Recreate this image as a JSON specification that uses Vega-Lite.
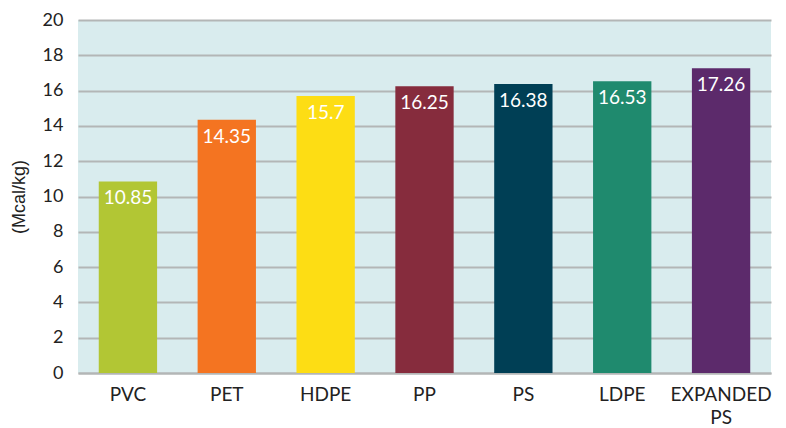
{
  "$schema": "https://vega.github.io/schema/vega-lite/v6.json",
  "width": 693,
  "height": 353,
  "autosize": {"type": "none"},
  "padding": {"left": 78, "top": 20, "right": 15, "bottom": 55},
  "background": "white",
  "config": {
    "font": "Lato",
    "view": {"fill": "#d9ecee", "stroke": null}
  },
  "data": {
    "values": [
      {"material": "PVC", "value": 10.85, "color": "#b2c634"},
      {"material": "PET", "value": 14.35, "color": "#f47421"},
      {"material": "HDPE", "value": 15.7, "color": "#fddd14"},
      {"material": "PP", "value": 16.25, "color": "#862c3d"},
      {"material": "PS", "value": 16.38, "color": "#003f55"},
      {"material": "LDPE", "value": 16.53, "color": "#1f8a6e"},
      {"material": "EXPANDED PS", "value": 17.26, "color": "#5c2a6b"}
    ]
  },
  "encoding": {
    "x": {
      "field": "material",
      "type": "nominal",
      "sort": null,
      "scale": {"paddingInner": 0.41, "paddingOuter": 0.21},
      "axis": {
        "title": null,
        "labelAngle": 0,
        "labelFont": "Lato",
        "labelFontSize": 19,
        "labelColor": "#222222",
        "labelPadding": 12,
        "ticks": false,
        "domainColor": "#b3b6b6",
        "domainWidth": 2,
        "labelExpr": "datum.label == 'EXPANDED PS' ? ['EXPANDED', 'PS'] : datum.label",
        "labelLineHeight": 23
      }
    },
    "y": {
      "field": "value",
      "type": "quantitative",
      "scale": {"domain": [0, 20], "nice": false},
      "axis": {
        "title": "(Mcal/kg)",
        "titleFont": "Liberation Sans",
        "titleFontSize": 18,
        "titleFontWeight": "normal",
        "titleColor": "#222222",
        "titlePadding": 14,
        "values": [0, 2, 4, 6, 8, 10, 12, 14, 16, 18, 20],
        "labelFont": "Lato",
        "labelFontSize": 18,
        "labelColor": "#222222",
        "labelPadding": 15,
        "ticks": false,
        "domain": false,
        "gridColor": "#b3b6b6",
        "gridWidth": 2,
        "gridOpacity": 1
      }
    }
  },
  "layer": [
    {
      "mark": {"type": "bar"},
      "encoding": {
        "color": {"field": "color", "type": "nominal", "scale": null, "legend": null}
      }
    },
    {
      "mark": {"type": "text", "baseline": "top", "dy": 8, "fontSize": 19, "color": "white", "font": "Lato"},
      "encoding": {
        "text": {"field": "value", "type": "quantitative"}
      }
    }
  ]
}
